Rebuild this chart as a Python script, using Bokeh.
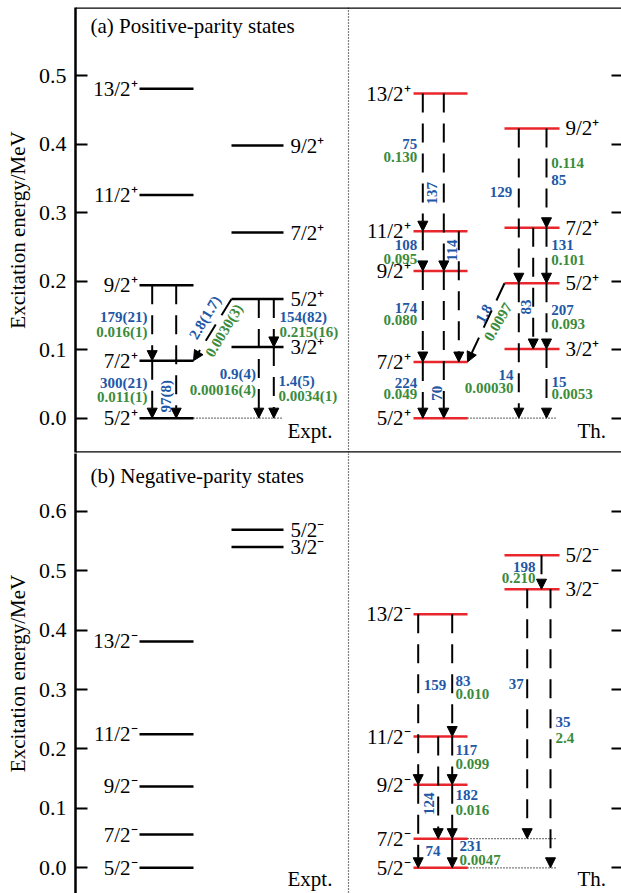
import math
from bokeh.plotting import figure
from bokeh.models import (Range1d, FixedTicker, LinearAxis, Span, Arrow, NormalHead,
                          ColumnDataSource, PrintfTickFormatter, Label, CustomJSTickFormatter)
from bokeh.layouts import column
from bokeh.embed import file_html
from bokeh.resources import INLINE
from bokeh.core.properties import value

# ======================= DATA =======================
# (a) positive-parity states
A_EXP1_SPIN = ["5/2⁺", "7/2⁺", "9/2⁺", "11/2⁺", "13/2⁺"]
A_EXP1_E = [0.000, 0.084, 0.194, 0.326, 0.481]
A_EXP2_SPIN = ["3/2⁺", "5/2⁺", "7/2⁺", "9/2⁺"]
A_EXP2_E = [0.104, 0.174, 0.271, 0.398]
A_TH1_SPIN = ["5/2⁺", "7/2⁺", "9/2⁺", "11/2⁺", "13/2⁺"]
A_TH1_E = [0.000, 0.082, 0.215, 0.273, 0.474]
A_TH2_SPIN = ["3/2⁺", "5/2⁺", "7/2⁺", "9/2⁺"]
A_TH2_E = [0.101, 0.197, 0.278, 0.423]

A_EXP_FROM = ["E1:9/2⁺", "E1:9/2⁺", "E1:7/2⁺", "E2:5/2⁺", "E2:5/2⁺", "E2:5/2⁺", "E2:3/2⁺"]
A_EXP_TO = ["E1:7/2⁺", "E1:5/2⁺", "E1:5/2⁺", "E1:7/2⁺", "E2:3/2⁺", "E1:5/2⁺", "E1:5/2⁺"]
A_EXP_BE2 = ["179(21)", "97(8)", "300(21)", "2.8(1.7)", "154(82)", "0.9(4)", "1.4(5)"]
A_EXP_BM1 = ["0.016(1)", "", "0.011(1)", "0.0030(3)", "0.215(16)", "0.00016(4)", "0.0034(1)"]

A_TH_FROM = ["T1:13/2⁺", "T1:13/2⁺", "T1:11/2⁺", "T1:11/2⁺", "T1:9/2⁺", "T1:9/2⁺", "T1:7/2⁺",
             "T2:5/2⁺", "T2:9/2⁺", "T2:9/2⁺", "T2:7/2⁺", "T2:7/2⁺", "T2:5/2⁺", "T2:5/2⁺", "T2:3/2⁺"]
A_TH_TO = ["T1:11/2⁺", "T1:9/2⁺", "T1:9/2⁺", "T1:7/2⁺", "T1:7/2⁺", "T1:5/2⁺", "T1:5/2⁺",
           "T1:7/2⁺", "T2:5/2⁺", "T2:7/2⁺", "T2:5/2⁺", "T2:3/2⁺", "T2:3/2⁺", "T1:5/2⁺", "T1:5/2⁺"]
A_TH_BE2 = ["75", "137", "108", "114", "174", "70", "224", "1.8", "129", "85", "131", "83", "207", "14", "15"]
A_TH_BM1 = ["0.130", "", "0.095", "", "0.080", "", "0.049", "0.0097", "", "0.114", "0.101", "", "0.093",
            "0.00030", "0.0053"]

# (b) negative-parity states
B_EXP1_SPIN = ["5/2⁻", "7/2⁻", "9/2⁻", "11/2⁻", "13/2⁻"]
B_EXP1_E = [0.000, 0.056, 0.137, 0.225, 0.381]
B_EXP2_SPIN = ["3/2⁻", "5/2⁻"]
B_EXP2_E = [0.540, 0.569]
B_TH1_SPIN = ["5/2⁻", "7/2⁻", "9/2⁻", "11/2⁻", "13/2⁻"]
B_TH1_E = [0.000, 0.049, 0.140, 0.221, 0.427]
B_TH2_SPIN = ["3/2⁻", "5/2⁻"]
B_TH2_E = [0.469, 0.526]

B_TH_FROM = ["T1:13/2⁻", "T1:13/2⁻", "T1:11/2⁻", "T1:11/2⁻", "T1:9/2⁻", "T1:9/2⁻", "T1:7/2⁻",
             "T2:5/2⁻", "T2:3/2⁻", "T2:3/2⁻"]
B_TH_TO = ["T1:11/2⁻", "T1:9/2⁻", "T1:9/2⁻", "T1:7/2⁻", "T1:7/2⁻", "T1:5/2⁻", "T1:5/2⁻",
           "T2:3/2⁻", "T1:7/2⁻", "T1:5/2⁻"]
B_TH_BE2 = ["83", "159", "117", "124", "182", "74", "231", "198", "37", "35"]
B_TH_BM1 = ["0.010", "", "0.099", "", "0.016", "", "0.0047", "0.210", "", "2.4"]

Y_TICKS_A = [0.0, 0.1, 0.2, 0.3, 0.4, 0.5]
Y_TICKS_B = [0.0, 0.1, 0.2, 0.3, 0.4, 0.5, 0.6]

# ======================= LAYOUT / STYLE =======================
SERIF = "Liberation Serif"
BLUE = "#2257a6"
GREEN = "#3a8b3c"
RED = "#e8262b"
BIG = "21px"
TICK = "22px"
SMALL = "15px"
DASH = "19 11"

COLS = {  # level-line extents (frame px from the left axis), label x, label align
    "E1": (64, 118, 62, "right"),
    "E2": (156, 208, 215, "left"),
    "T1": (338, 392, 335, "right"),
    "T2": (429, 484, 490, "left"),
}
R90 = 90.0
# per transition: arrow x ("D" = diagonal), blue label (x, y, align, deg), green label
A_EXP_LAY = [
    (76.7, (72, 0.148, "right", 0), (72, 0.126, "right", 0)),
    (100.7, (90, 0.032, "center", R90), None),
    (76.7, (72, 0.051, "right", 0), (72, 0.031, "right", 0)),
    ("D", (129.5, 0.147, "center", 59), (148.5, 0.128, "center", 59)),
    (198.3, (204, 0.148, "left", 0), (204, 0.126, "left", 0)),
    (183.3, (180.5, 0.064, "right", 0), (180.5, 0.041, "right", 0)),
    (198.3, (203, 0.055, "left", 0), (203, 0.032, "left", 0)),
]
A_TH_LAY = [
    (347.3, (341.7, 0.401, "right", 0), (341.7, 0.381, "right", 0)),
    (368.3, (356.7, 0.3285, "center", R90), None),
    (347.3, (341.7, 0.2526, "right", 0), (341.7, 0.2317, "right", 0)),
    (383.3, (376.7, 0.245, "center", R90), None),
    (347.3, (341.7, 0.1606, "right", 0), (341.7, 0.143, "right", 0)),
    (368.3, (361.7, 0.0365, "center", R90), None),
    (347.3, (341.7, 0.052, "right", 0), (341.7, 0.0346, "right", 0)),
    ("D", (408.3, 0.1528, "center", 60), (422.5, 0.1406, "center", 60)),
    (443.3, (436.7, 0.3304, "right", 0), None),
    (471.0, (475.7, 0.3474, "left", 0), (475.7, 0.372, "left", 0)),
    (471.0, (475.7, 0.2526, "left", 0), (475.7, 0.2307, "left", 0)),
    (457.7, (450.0, 0.1625, "center", R90), None),
    (471.0, (475.7, 0.1577, "left", 0), (475.7, 0.137, "left", 0)),
    (443.3, (438.0, 0.0628, "right", 0), (438.0, 0.0434, "right", 0)),
    (471.0, (476.0, 0.053, "left", 0), (476.0, 0.035, "left", 0)),
]
B_TH_LAY = [
    (376.7, (380, 0.315, "left", 0), (380, 0.293, "left", 0)),
    (342.7, (348.3, 0.307, "left", 0), None),
    (376.7, (380, 0.1975, "left", 0), (380, 0.174, "left", 0)),
    (362.7, (353.3, 0.1077, "center", R90), None),
    (376.7, (380, 0.1217, "left", 0), (380, 0.0976, "left", 0)),
    (342.7, (350, 0.029, "left", 0), None),
    (376.7, (384, 0.0375, "left", 0), (384, 0.0123, "left", 0)),
    (466.0, (460, 0.507, "right", 0), (460, 0.4875, "right", 0)),
    (451.7, (448.3, 0.31, "right", 0), None),
    (475.0, (480, 0.245, "left", 0), (480, 0.219, "left", 0)),
]


def make_panel(height, yr, border_top, border_bottom, ticks, title, title_y, note_y,
               columns, transitions, dotted, frame_lines):
    p = figure(width=621, height=height, x_range=Range1d(0, 546), y_range=Range1d(*yr),
               output_backend="svg", toolbar_location=None, x_axis_type=None,
               min_border_left=75, min_border_right=0, min_border_top=border_top,
               min_border_bottom=border_bottom)
    p.grid.visible = False
    p.outline_line_color = None
    p.background_fill_color = "white"
    ax = p.yaxis[0]
    ax.ticker = FixedTicker(ticks=ticks)
    ax.formatter = PrintfTickFormatter(format="%.1f")
    ax.minor_tick_line_color = None
    ax.major_tick_in = 12
    ax.major_tick_out = 0
    ax.major_tick_line_width = 2
    ax.axis_line_width = 2.5
    ax.major_label_standoff = 9
    ax.major_label_text_font = SERIF
    ax.major_label_text_font_size = TICK
    ax.major_label_text_color = "black"
    ax.axis_label = "Excitation energy/MeV"
    ax.axis_label_text_font = SERIF
    ax.axis_label_text_font_size = BIG
    ax.axis_label_text_font_style = "normal"
    ax.axis_label_text_color = "black"
    ax.axis_label_standoff = 6
    rax = LinearAxis(ticker=FixedTicker(ticks=ticks), major_tick_in=10, major_tick_out=0,
                     major_tick_line_width=2, minor_tick_line_color=None, axis_line_color=None,
                     formatter=CustomJSTickFormatter(code="return ''"),
                     major_label_standoff=0)
    p.add_layout(rax, "right")

    for loc in frame_lines:
        p.add_layout(Span(location=loc, dimension="width", line_color="black", line_width=2.5))
    p.add_layout(Span(location=273, dimension="height", line_color="black",
                      line_dash="1 2", line_width=1.2))

    levels = {}
    for key, spins, energies, color in columns:
        xa, xb, lx, la = COLS[key]
        n = len(energies)
        for s, e in zip(spins, energies):
            levels[f"{key}:{s}"] = e
        p.segment(x0=[xa] * n, y0=energies, x1=[xb] * n, y1=energies,
                  line_color=color, line_width=2.5)
        p.text(x=[lx] * n, y=energies, text=spins, text_font=value(SERIF),
               text_font_size=value(BIG), text_align=la, text_baseline="middle",
               text_color="black")

    for key, spin, x0, x1 in dotted:
        e = levels[f"{key}:{spin}"]
        p.segment(x0=[x0], y0=[e], x1=[x1], y1=[e], line_color="black",
                  line_dash="1 2", line_width=1.2)

    arr = dict(xs=[], ys=[], xe=[], ye=[])
    groups = {}
    for froms, tos, be2s, bm1s, lays in transitions:
        for fr, to, be2, bm1, lay in zip(froms, tos, be2s, bm1s, lays):
            ax_x, bl, gl = lay
            ys, ye = levels[fr], levels[to]
            if ax_x == "D":
                xs = COLS[fr.split(":")[0]][0]
                xe = COLS[to.split(":")[0]][1]
            else:
                xs = xe = ax_x
            arr["xs"].append(xs); arr["ys"].append(ys)
            arr["xe"].append(xe); arr["ye"].append(ye)
            for txt, lab, col in ((be2, bl, BLUE), (bm1, gl, GREEN)):
                if not txt or lab is None:
                    continue
                lxx, lyy, al, deg = lab
                g = groups.setdefault((col, al), dict(x=[], y=[], text=[], angle=[]))
                g["x"].append(lxx); g["y"].append(lyy); g["text"].append(txt)
                g["angle"].append(math.radians(deg))
    if arr["xs"]:
        p.add_layout(Arrow(x_start="xs", y_start="ys", x_end="xe", y_end="ye",
                           source=ColumnDataSource(arr), line_color="black", line_width=2,
                           line_dash=DASH,
                           end=NormalHead(size=10, fill_color="black", line_color="black",
                                          line_width=1)))
    for (col, al), g in groups.items():
        p.text(x="x", y="y", text="text", angle="angle", source=ColumnDataSource(g),
               text_font=value(SERIF), text_font_size=value(SMALL), text_font_style="bold",
               text_color=col, text_align=al, text_baseline="middle")

    p.add_layout(Label(x=15, y=title_y, text=title, text_font=SERIF, text_font_size=BIG,
                       text_baseline="middle", text_color="black"))
    p.add_layout(Label(x=212, y=note_y, text="Expt.", text_font=SERIF, text_font_size=BIG,
                       text_baseline="middle", text_color="black"))
    p.add_layout(Label(x=502, y=note_y, text="Th.", text_font=SERIF, text_font_size=BIG,
                       text_baseline="middle", text_color="black"))
    return p


YA = (-0.0501, 0.5996)
YB = (-0.0433, 0.6975)
pa = make_panel(
    453, YA, 7, 1, Y_TICKS_A, "(a) Positive-parity states", 0.572, -0.019,
    [("E1", A_EXP1_SPIN, A_EXP1_E, "black"), ("E2", A_EXP2_SPIN, A_EXP2_E, "black"),
     ("T1", A_TH1_SPIN, A_TH1_E, RED), ("T2", A_TH2_SPIN, A_TH2_E, RED)],
    [(A_EXP_FROM, A_EXP_TO, A_EXP_BE2, A_EXP_BM1, A_EXP_LAY),
     (A_TH_FROM, A_TH_TO, A_TH_BE2, A_TH_BM1, A_TH_LAY)],
    [("E1", "5/2⁺", 118, 207), ("T1", "5/2⁺", 392, 480)],
    [YA[0], YA[1]],
)
pb = make_panel(
    440, YB, 0, 0, Y_TICKS_B, "(b) Negative-parity states", 0.660, -0.0185,
    [("E1", B_EXP1_SPIN, B_EXP1_E, "black"), ("E2", B_EXP2_SPIN, B_EXP2_E, "black"),
     ("T1", B_TH1_SPIN, B_TH1_E, RED), ("T2", B_TH2_SPIN, B_TH2_E, RED)],
    [(B_TH_FROM, B_TH_TO, B_TH_BE2, B_TH_BM1, B_TH_LAY)],
    [("T1", "7/2⁻", 392, 480), ("T1", "5/2⁻", 392, 480)],
    [],
)

layout = column(pa, pb, spacing=0)
open("out.html", "w").write(file_html(layout, INLINE))
